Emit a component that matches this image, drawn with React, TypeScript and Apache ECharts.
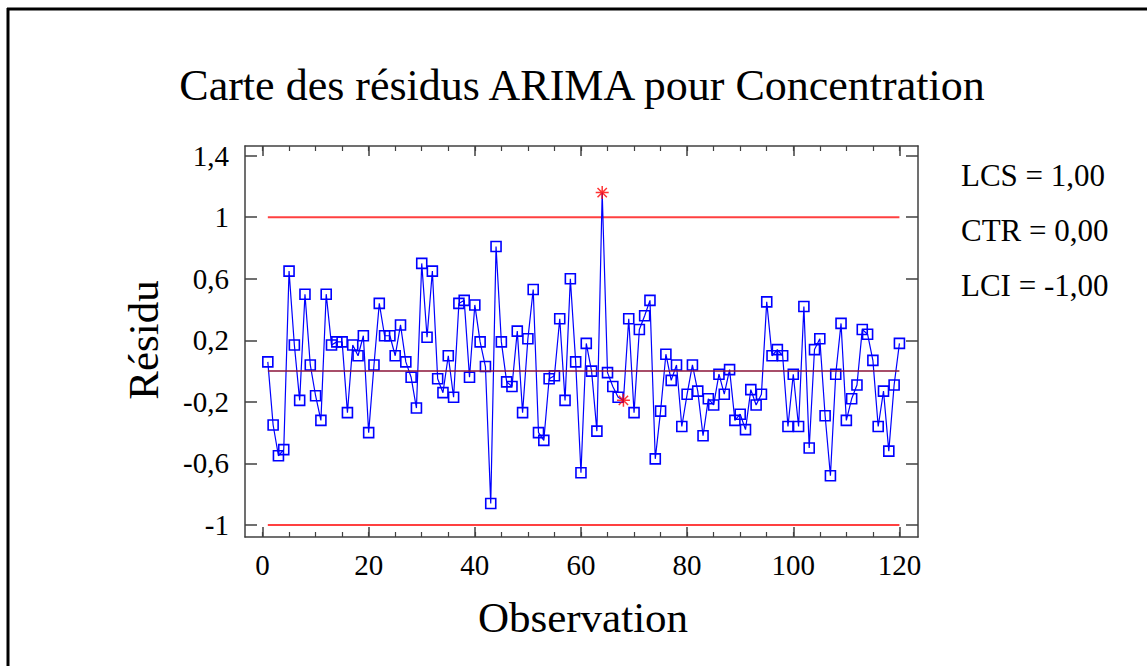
import React, { useEffect, useRef } from "react";
import * as echarts from "echarts";

// Residual values, observation 1..120
const residuals: number[] = [
  0.06, -0.35, -0.55, -0.51, 0.65, 0.17, -0.19, 0.5, 0.04, -0.16,
  -0.32, 0.5, 0.17, 0.19, 0.19, -0.27, 0.17, 0.1, 0.23, -0.4,
  0.04, 0.44, 0.23, 0.23, 0.1, 0.3, 0.06, -0.04, -0.24, 0.7,
  0.22, 0.65, -0.05, -0.14, 0.1, -0.17, 0.44, 0.46, -0.04, 0.43,
  0.19, 0.03, -0.86, 0.81, 0.19, -0.07, -0.1, 0.26, -0.27, 0.21,
  0.53, -0.4, -0.45, -0.05, -0.03, 0.34, -0.19, 0.6, 0.06, -0.66,
  0.18, 0.0, -0.39, 1.16, -0.01, -0.1, -0.17, -0.19, 0.34, -0.27,
  0.27, 0.36, 0.46, -0.57, -0.26, 0.11, -0.06, 0.04, -0.36, -0.15,
  0.04, -0.13, -0.42, -0.18, -0.22, -0.02, -0.15, 0.01, -0.32, -0.28,
  -0.38, -0.12, -0.22, -0.15, 0.45, 0.1, 0.14, 0.1, -0.36, -0.02,
  -0.36, 0.42, -0.5, 0.14, 0.21, -0.29, -0.68, -0.02, 0.31, -0.32,
  -0.18, -0.09, 0.27, 0.24, 0.07, -0.36, -0.13, -0.52, -0.09, 0.18,
];
const flaggedObs: number[] = [64, 68];
const ucl = 1.0;
const ctr = 0.0;
const lcl = -1.0;
const firstObs = 1;
const lastObs = 120;
const yTickValues: number[] = [-1, -0.6, -0.2, 0.2, 0.6, 1, 1.4];
const xTickValues: number[] = [0, 20, 40, 60, 80, 100, 120];
const xMinorTickValues: number[] = [
  0, 5, 10, 15, 20, 25, 30, 35, 40, 45, 50, 55, 60, 65, 70, 75, 80, 85, 90, 95, 100, 105, 110, 115, 120,
];
const titleText = "Carte des résidus ARIMA pour Concentration";
const xName = "Observation";
const yName = "Résidu";
const fmt = (v: number) => v.toFixed(2).replace(".", ",");
const legendLines = [`LCS = ${fmt(ucl)}`, `CTR = ${fmt(ctr)}`, `LCI = ${fmt(lcl)}`];

const FONT = "'Liberation Serif', 'Times New Roman', serif";
const AXIS_COLOR = "#404040";

export default function App() {
  const ref = useRef<HTMLDivElement>(null);
  useEffect(() => {
    if (!ref.current) return;
    const chart = echarts.init(ref.current, null, { renderer: "svg" });
    const lineData = residuals.map((v, i) => {
      const obs = i + 1;
      const flagged = flaggedObs.includes(obs);
      return flagged ? { value: [obs, v], symbol: "none" } : { value: [obs, v] };
    });
    const starData = flaggedObs.map((o) => [o, residuals[o - 1]]);
    const xMin = -3.3;
    const xMax = 123.5;
    const yMin = -1.078;
    const yMax = 1.463;
    const baseX = {
      type: "value",
      min: xMin,
      max: xMax,
      splitLine: { show: false },
    };
    const line = (show: boolean) => ({ show, onZero: false, lineStyle: { color: AXIS_COLOR, width: 1.5 } });
    const option: any = {
      animation: false,
      backgroundColor: "#ffffff",
      grid: { left: 245, top: 146, width: 673, height: 391, containLabel: false },
      xAxis: [
        {
          ...baseX,
          position: "bottom",
          axisLine: line(true),
          axisTick: { show: true, inside: true, length: 10, customValues: xTickValues, lineStyle: { color: AXIS_COLOR, width: 1.5 } },
          axisLabel: { customValues: xTickValues, fontSize: 29, fontFamily: FONT, color: "#000", margin: 13 },
        },
        {
          ...baseX,
          position: "bottom",
          axisLine: line(false),
          axisTick: { show: true, inside: true, length: 5, customValues: xMinorTickValues, lineStyle: { color: AXIS_COLOR, width: 1.2 } },
          axisLabel: { show: false },
        },
        {
          ...baseX,
          position: "top",
          axisLine: line(true),
          axisTick: { show: true, inside: true, length: 10, customValues: xTickValues, lineStyle: { color: AXIS_COLOR, width: 1.5 } },
          axisLabel: { show: false },
        },
        {
          ...baseX,
          position: "top",
          axisLine: line(false),
          axisTick: { show: true, inside: true, length: 5, customValues: xMinorTickValues, lineStyle: { color: AXIS_COLOR, width: 1.2 } },
          axisLabel: { show: false },
        },
      ],
      yAxis: [
        {
          type: "value",
          position: "left",
          min: yMin,
          max: yMax,
          splitLine: { show: false },
          axisLine: line(true),
          axisTick: { show: true, inside: true, length: 12, customValues: yTickValues, lineStyle: { color: AXIS_COLOR, width: 1.5 } },
          axisLabel: {
            customValues: yTickValues,
            fontSize: 29,
            fontFamily: FONT,
            color: "#000",
            margin: 16,
            formatter: (v: number) => String(v).replace(".", ","),
          },
        },
        {
          type: "value",
          position: "right",
          min: yMin,
          max: yMax,
          splitLine: { show: false },
          axisLine: line(true),
          axisTick: { show: true, inside: true, length: 12, customValues: yTickValues, lineStyle: { color: AXIS_COLOR, width: 1.5 } },
          axisLabel: { show: false },
        },
      ],
      series: [
        {
          name: "LCS",
          type: "line",
          data: [[firstObs, ucl], [lastObs, ucl]],
          symbol: "none",
          lineStyle: { color: "#ff4040", width: 2 },
          silent: true,
          z: 1,
        },
        {
          name: "LCI",
          type: "line",
          data: [[firstObs, lcl], [lastObs, lcl]],
          symbol: "none",
          lineStyle: { color: "#ff4040", width: 2 },
          silent: true,
          z: 1,
        },
        {
          name: "Résidus",
          type: "line",
          data: lineData,
          symbol: "rect",
          symbolSize: 10,
          showAllSymbol: true,
          lineStyle: { color: "#0000ff", width: 1.2 },
          itemStyle: { color: "rgba(255,255,255,0)", borderColor: "#0000ff", borderWidth: 1.6 },
          z: 2,
        },
        {
          name: "CTR",
          type: "line",
          data: [[firstObs, ctr], [lastObs, ctr]],
          symbol: "none",
          lineStyle: { color: "#8b1538", width: 1.5 },
          silent: true,
          z: 3,
        },
        {
          name: "Hors contrôle",
          type: "scatter",
          data: starData,
          symbol: "path://M0,-5L0,5M-5,0L5,0M-3.6,-3.6L3.6,3.6M-3.6,3.6L3.6,-3.6",
          symbolSize: 13,
          itemStyle: { color: "none", borderColor: "#ff0000", borderWidth: 1.5 },
          z: 4,
        },
      ],
      graphic: [
        { type: "line", shape: { x1: 7, y1: 9, x2: 1147, y2: 9 }, style: { stroke: "#000", lineWidth: 3 } },
        { type: "line", shape: { x1: 8, y1: 8, x2: 8, y2: 666 }, style: { stroke: "#000", lineWidth: 3 } },
        {
          type: "text",
          x: 582,
          y: 85,
          style: { text: titleText, font: `44px ${FONT}`, fill: "#000", textAlign: "center", textVerticalAlign: "middle" },
        },
        {
          type: "text",
          x: 583,
          y: 617,
          style: { text: xName, font: `43px ${FONT}`, fill: "#000", textAlign: "center", textVerticalAlign: "middle" },
        },
        {
          type: "text",
          x: 143,
          y: 340,
          rotation: Math.PI / 2,
          style: { text: yName, font: `43px ${FONT}`, fill: "#000", textAlign: "center", textVerticalAlign: "middle" },
        },
        ...legendLines.map((t, i) => ({
          type: "text",
          x: 961,
          y: [175, 230, 285][i],
          style: { text: t, font: `31px ${FONT}`, fill: "#000", textAlign: "left", textVerticalAlign: "middle" },
        })),
      ],
    };
    chart.setOption(option);
    return () => chart.dispose();
  }, []);
  return (
    <div
      ref={ref}
      style={{ position: "fixed", left: 0, top: 0, width: 1147, height: 666, background: "#fff" }}
    />
  );
}
